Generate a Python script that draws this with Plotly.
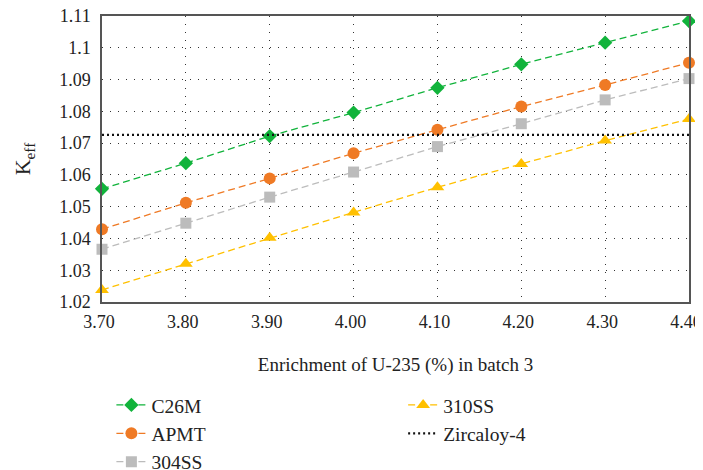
import plotly.graph_objects as go

enrichment = [3.70, 3.80, 3.90, 4.00, 4.10, 4.20, 4.30, 4.40]
c26m = [1.0556, 1.0637, 1.0722, 1.0796, 1.0874, 1.0948, 1.1016, 1.1084]
apmt = [1.0429, 1.0512, 1.0589, 1.0668, 1.0742, 1.0815, 1.0883, 1.0953]
ss304 = [1.0366, 1.0448, 1.0530, 1.0609, 1.0689, 1.0761, 1.0836, 1.0903]
ss310 = [1.0238, 1.0320, 1.0402, 1.0482, 1.0561, 1.0634, 1.0708, 1.0776]
zircaloy_x = [3.70, 4.40]
zircaloy = [1.0726, 1.0726]

y_ticks = [1.02, 1.03, 1.04, 1.05, 1.06, 1.07, 1.08, 1.09, 1.10, 1.11]
y_ticktext = ["1.02", "1.03", "1.04", "1.05", "1.06", "1.07", "1.08", "1.09", "1.1", "1.11"]
x_ticks = enrichment
x_ticktext = ["3.70", "3.80", "3.90", "4.00", "4.10", "4.20", "4.30", "4.40"]

FONT = "Liberation Serif"
fig = go.Figure()

series = [
    ("C26M", c26m, "#11b33b", "diamond", 11, "legend"),
    ("APMT", apmt, "#ef7a25", "circle", 12, "legend"),
    ("304SS", ss304, "#bcbcbc", "square", 11, "legend"),
    ("310SS", ss310, "#ffc000", "triangle-up", 12, "legend2"),
]
for name, ys, col, sym, sz, lg in series:
    fig.add_trace(go.Scatter(
        x=enrichment, y=ys, name=name, mode="lines+markers",
        line=dict(color=col, width=1.3, dash="7px,4px"),
        marker=dict(symbol=sym, size=sz, color=col),
        cliponaxis=False, legend=lg,
    ))

fig.add_trace(go.Scatter(
    x=zircaloy_x, y=zircaloy, name="Zircaloy-4", mode="lines",
    line=dict(color="#111111", width=2.2, dash="2px,3px"),
    legend="legend2",
))

fig.update_layout(
    width=695, height=462,
    margin=dict(l=94, r=14, t=8, b=168, autoexpand=False),
    paper_bgcolor="white", plot_bgcolor="white",
    font=dict(family=FONT, size=18, color="#222"),
    legend=dict(x=0.016, y=-0.293, xanchor="left", yanchor="top",
                font=dict(size=19.5, family=FONT), bgcolor="rgba(0,0,0,0)",
                tracegroupgap=0),
    legend2=dict(x=0.513, y=-0.293, xanchor="left", yanchor="top",
                 font=dict(size=19.5, family=FONT), bgcolor="rgba(0,0,0,0)",
                 tracegroupgap=0),
    showlegend=True,
)
fig.update_xaxes(
    range=[3.70, 4.40], tickvals=x_ticks, ticktext=x_ticktext,
    showline=True, mirror=True, linecolor="#555", linewidth=1.5,
    showgrid=True, gridcolor="#333", gridwidth=1, griddash="1px,7px",
    zeroline=False, ticks="", ticklabelstandoff=3, ticklabeloverflow="allow",
    ticklabelshift=-3, automargin=False,
    tickfont=dict(size=18, family=FONT),
    title=dict(text="Enrichment of U-235 (%) in batch 3", font=dict(size=19, family=FONT), standoff=26),
)
fig.update_yaxes(
    range=[1.02, 1.11], tickvals=y_ticks, ticktext=y_ticktext,
    showline=True, mirror=True, linecolor="#555", linewidth=1.5,
    showgrid=True, gridcolor="#333", gridwidth=1, griddash="1px,7px",
    zeroline=False, ticks="", ticklabelstandoff=6, ticklabeloverflow="allow",
    automargin=False,
    tickfont=dict(size=18, family=FONT),
    title=dict(text="K<sub>eff</sub>", font=dict(size=22, family=FONT), standoff=22),
)

fig.write_html("out.html")
